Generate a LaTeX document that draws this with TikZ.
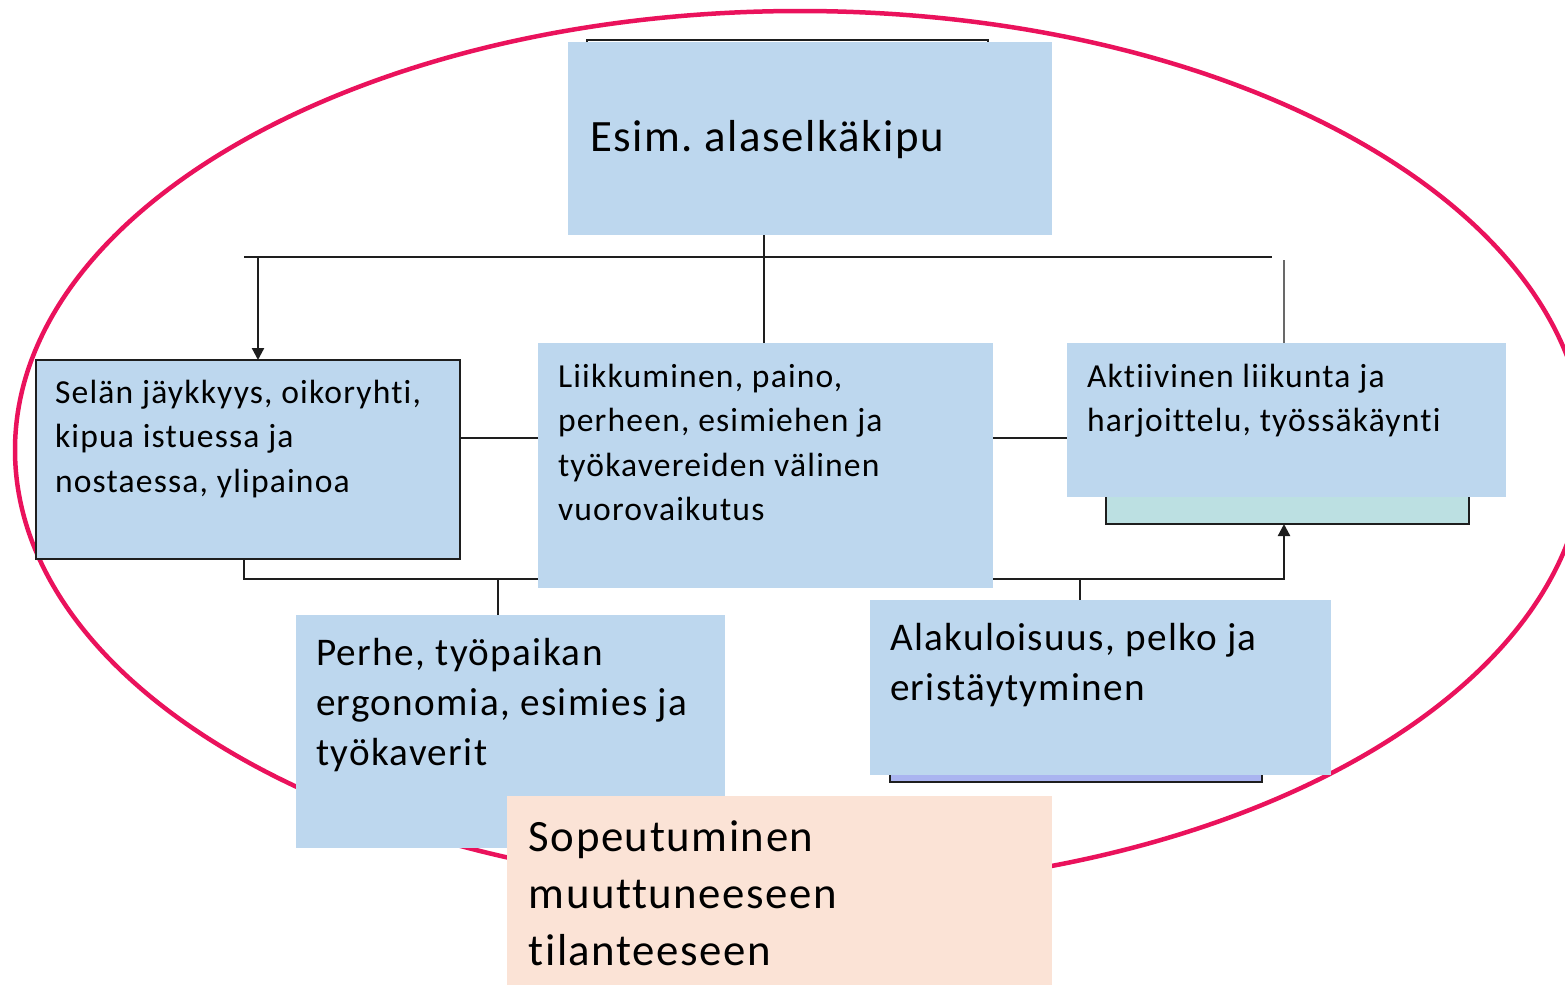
\documentclass[tikz,border=0pt]{standalone}
\usepackage{fontspec}
\setmainfont{Carlito}[LetterSpace=3.5, Ligatures=NoCommon]
\usetikzlibrary{arrows.meta}
\definecolor{boxblue}{RGB}{189,215,238}
\definecolor{peach}{RGB}{251,227,214}
\definecolor{tealbox}{RGB}{188,224,226}
\definecolor{lavbox}{RGB}{170,180,240}
\definecolor{ellred}{RGB}{234,18,92}
\definecolor{linedark}{RGB}{30,30,30}
\definecolor{linegray}{RGB}{105,105,105}
\newcommand{\fsS}{\fontsize{33.6}{44.5}\selectfont}
\newcommand{\fsM}{\fontsize{39.2}{50}\selectfont}
\newcommand{\fsL}{\fontsize{44.8}{57}\selectfont}
\frenchspacing
\begin{document}
\begin{tikzpicture}[x=1pt,y=-1pt,
  boxshape/.style={inner sep=0pt, outer sep=0pt, anchor=north west},
  bluebox/.style={boxshape, fill=boxblue},
  framed/.style={draw=linedark, line width=2.3pt},
  conn/.style={draw=linedark, line width=2.3pt},
  conngray/.style={draw=linegray, line width=2.3pt},
  arrowtip/.style={-{Triangle[width=12pt,length=12pt]}},
  txt/.style={inner sep=0pt, outer sep=0pt, anchor=base west, text=black},
  ell/.style={draw=ellred, line width=4.5pt}
]
\useasboundingbox (0,0) rectangle (1565,985);
\clip (0,0) rectangle (1565,985);

% outer ellipse
\draw[ell] (800,450) ellipse [x radius=785pt, y radius=439pt];

% hidden box behind the top box
\node[boxshape, fill=white, framed, minimum width=401pt, minimum height=180pt] (hidtop) at (587,40) {};

% connector coordinates
\coordinate (jtop) at (764,257);
\coordinate (barL) at (244,257);
\coordinate (barR) at (1272,257);
\coordinate (aL) at (258,257);
\coordinate (aR) at (1284,260);
\coordinate (hm) at (0,438);
\coordinate (bL) at (244,579);
\coordinate (bR) at (1284,579);
\coordinate (bP) at (498,579);
\coordinate (bA) at (1080,579);

% background boxes (partly hidden)
\node[boxshape, fill=tealbox, framed, minimum width=363pt, minimum height=144pt] (teal) at (1106,380) {};
\node[boxshape, fill=lavbox, framed, minimum width=372pt, minimum height=142pt] (lav) at (890,640) {};

% top box
\node[bluebox, minimum width=484pt, minimum height=193pt] (top) at (568,42) {};

% box corners
\coordinate (leftNW) at (36,360);
\coordinate (midNW) at (538,343);
\coordinate (rightNW) at (1067,343);
\coordinate (perheNW) at (296,615);
\coordinate (alakuNW) at (870,600);
\coordinate (sopNW) at (507,796);

% invisible placeholders giving anchors for connectors
\path (leftNW) node[boxshape, minimum width=424pt, minimum height=199pt] (left) {};
\path (midNW) node[boxshape, minimum width=455pt, minimum height=245pt] (mid) {};
\path (rightNW) node[boxshape, minimum width=439pt, minimum height=154pt] (right) {};
\path (perheNW) node[boxshape, minimum width=429pt, minimum height=233pt] (perhe) {};
\path (alakuNW) node[boxshape, minimum width=461pt, minimum height=175pt] (alaku) {};

% connectors
\draw[conn] (jtop |- top.south) -- (jtop |- mid.north);
\draw[conn] (barL) -- (barR);
\draw[conn, arrowtip] (aL) -- (aL |- left.north);
\draw[conngray] (aR) -- (aR |- right.north);
\draw[conn] (left.east |- hm) -- (right.west |- hm);
\draw[conn, arrowtip] (bL |- left.south) -- (bL) -- (bR) -- (bR |- teal.south);
\draw[conn] (bP) -- (bP |- perhe.north);
\draw[conn] (bA) -- (bA |- alaku.north);

% visible boxes
\node[bluebox, framed, minimum width=424pt, minimum height=199pt] (leftbox) at (leftNW) {};
\node[bluebox, minimum width=455pt, minimum height=245pt] (midbox) at (midNW) {};
\node[bluebox, minimum width=439pt, minimum height=154pt] (rightbox) at (rightNW) {};
\node[bluebox, minimum width=429pt, minimum height=233pt] (perhebox) at (perheNW) {};
\node[bluebox, minimum width=461pt, minimum height=175pt] (alakubox) at (alakuNW) {};
\node[boxshape, fill=peach, minimum width=545pt, minimum height=189pt] (sop) at (sopNW) {};

% texts
\node[txt, font=\fsL] (ttop) at (590,151.7) {Esim. alaselkäkipu};
\node[txt, font=\fsS] (tleft) at (55,403.3) {\begin{tabular}[t]{@{}l@{}}Selän jäykkyys, oikoryhti,\\kipua istuessa ja\\nostaessa, ylipainoa\end{tabular}};
\node[txt, font=\fsS] (tmid) at (558,387.3) {\begin{tabular}[t]{@{}l@{}}Liikkuminen, paino,\\perheen, esimiehen ja\\työkavereiden välinen\\vuorovaikutus\end{tabular}};
\node[txt, font=\fsS] (tright) at (1087,387.3) {\begin{tabular}[t]{@{}l@{}}Aktiivinen liikunta ja\\harjoittelu, työssäkäynti\end{tabular}};
\node[txt, font=\fsM] (tperhe) at (316,665) {\begin{tabular}[t]{@{}l@{}}Perhe, työpaikan\\ergonomia, esimies ja\\työkaverit\end{tabular}};
\node[txt, font=\fsM] (talaku) at (890,650) {\begin{tabular}[t]{@{}l@{}}Alakuloisuus, pelko ja\\eristäytyminen\end{tabular}};
\node[txt, font=\fsL] (tsop) at (528.7,851.7) {\begin{tabular}[t]{@{}l@{}}Sopeutuminen\\muuttuneeseen\\tilanteeseen\end{tabular}};
\end{tikzpicture}
\end{document}
